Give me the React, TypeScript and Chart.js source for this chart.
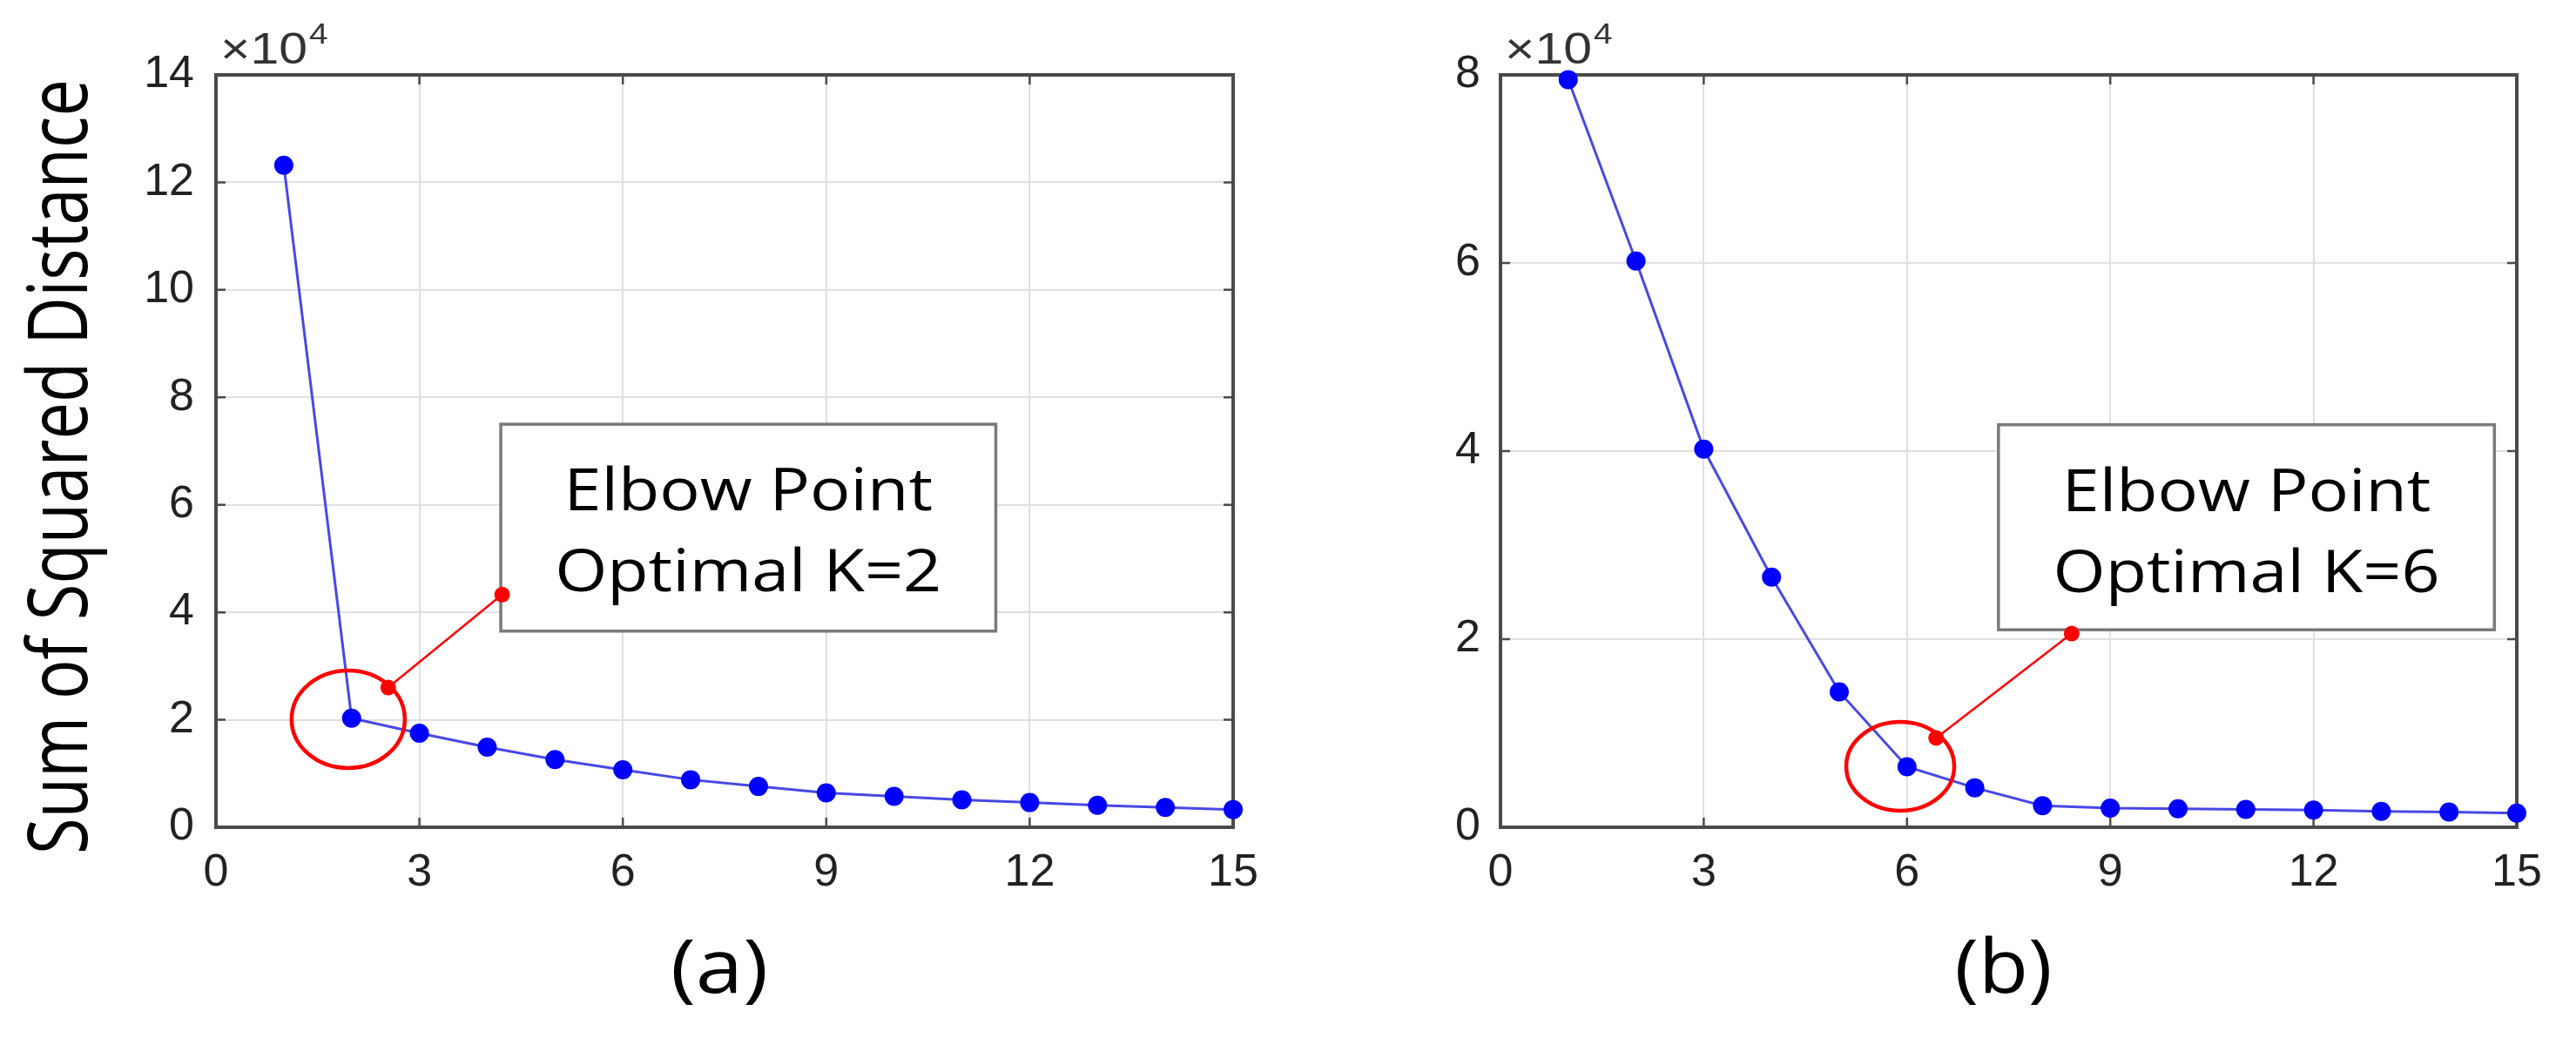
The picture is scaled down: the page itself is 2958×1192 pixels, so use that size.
import React, { useEffect, useRef } from "react";
import { Chart, registerables } from "chart.js";

Chart.register(...registerables);

// ---------- data ----------
const K_VALUES = [1, 2, 3, 4, 5, 6, 7, 8, 9, 10, 11, 12, 13, 14, 15];
const SSD_A = [123200, 20300, 17500, 14900, 12600, 10700, 8850, 7600, 6400, 5760, 5100, 4600, 4100, 3700, 3300];
const SSD_B = [79500, 60200, 40200, 26600, 14400, 6440, 4200, 2300, 2040, 1970, 1900, 1830, 1690, 1620, 1510];

const X_MIN = 0;
const X_MAX = 15;
const X_STEP = 3;
const Y_MAX_A = 140000;
const Y_MAX_B = 80000;
const Y_STEP = 20000;
const Y_SCALE_FACTOR = 10000;

// elbow annotations (data coordinates)
const ELBOW_A_CENTER = [1.95, 20100];
const ELBOW_A_POINTER_X = [2.54, 4.22];
const ELBOW_A_POINTER_Y = [26000, 43300];
const ELBOW_A_BOX_X = [4.2, 11.5];
const ELBOW_A_BOX_Y = [36500, 75000];
const ELBOW_A_TEXT = ["Elbow Point", "Optimal K=2"];

const ELBOW_B_CENTER = [5.9, 6480];
const ELBOW_B_POINTER_X = [6.43, 8.43];
const ELBOW_B_POINTER_Y = [9500, 20600];
const ELBOW_B_BOX_X = [7.35, 14.67];
const ELBOW_B_BOX_Y = [21000, 42800];
const ELBOW_B_TEXT = ["Elbow Point", "Optimal K=6"];

const Y_LABEL = "Sum of Squared Distance";
const PANEL_LABELS = ["(a)", "(b)"];
const EXPONENT_BASE = "\u00d710";
const EXPONENT_POWER = "4";

// ---------- styles ----------
const TICK_COLOR = "#222222";
const GRID_COLOR = "#e0e0e0";
const BOX_COLOR = "#4a4a4a";
const LINE_COLOR = "#4848e4";
const POINT_COLOR = "#0000ff";
const RED = "#ff0000";
const TICK_FONT = { family: '"Liberation Sans", Arial, sans-serif', size: 52 };
const TEXT_FAMILY = '"Open Sans", "Noto Sans", sans-serif';

type PanelDef = {
  values: number[];
  yMax: number;
  center: number[];
  rx: number;
  ry: number;
  pointerX: number[];
  pointerY: number[];
  boxX: number[];
  boxY: number[];
  text: string[];
  label: string;
  yWidth: number;
  padRight: number;
  yPad: number;
  showYLabel: boolean;
};

const PANEL_A: PanelDef = {
  values: SSD_A,
  yMax: Y_MAX_A,
  center: ELBOW_A_CENTER,
  rx: 65,
  ry: 56,
  pointerX: ELBOW_A_POINTER_X,
  pointerY: ELBOW_A_POINTER_Y,
  boxX: ELBOW_A_BOX_X,
  boxY: ELBOW_A_BOX_Y,
  text: ELBOW_A_TEXT,
  label: PANEL_LABELS[0],
  yWidth: 248,
  padRight: 63,
  yPad: 25,
  showYLabel: true,
};

const PANEL_B: PanelDef = {
  values: SSD_B,
  yMax: Y_MAX_B,
  center: ELBOW_B_CENTER,
  rx: 62,
  ry: 51,
  pointerX: ELBOW_B_POINTER_X,
  pointerY: ELBOW_B_POINTER_Y,
  boxX: ELBOW_B_BOX_X,
  boxY: ELBOW_B_BOX_Y,
  text: ELBOW_B_TEXT,
  label: PANEL_LABELS[1],
  yWidth: 244,
  padRight: 68,
  yPad: 23,
  showYLabel: false,
};

function drawStretched(ctx: CanvasRenderingContext2D, text: string, x: number, y: number, sx: number) {
  ctx.save();
  ctx.translate(x, y);
  ctx.scale(sx, 1);
  ctx.fillText(text, 0, 0);
  ctx.restore();
}

function makeDecorPlugin(p: PanelDef) {
  return {
    id: "decor",
    beforeDatasetsDraw(chart: any) {
      const { ctx, chartArea: ca, scales } = chart;
      const xs = scales.x;
      const ys = scales.y;
      ctx.save();
      // axes box
      ctx.strokeStyle = BOX_COLOR;
      ctx.lineWidth = 4;
      ctx.strokeRect(ca.left, ca.top, ca.right - ca.left, ca.bottom - ca.top);
      // inward tick marks
      const tl = 11;
      ctx.lineWidth = 2.5;
      ctx.beginPath();
      xs.ticks.forEach((t: any) => {
        const px = xs.getPixelForValue(t.value);
        ctx.moveTo(px, ca.bottom);
        ctx.lineTo(px, ca.bottom - tl);
        ctx.moveTo(px, ca.top);
        ctx.lineTo(px, ca.top + tl);
      });
      ys.ticks.forEach((t: any) => {
        const py = ys.getPixelForValue(t.value);
        ctx.moveTo(ca.left, py);
        ctx.lineTo(ca.left + tl, py);
        ctx.moveTo(ca.right, py);
        ctx.lineTo(ca.right - tl, py);
      });
      ctx.stroke();

      // annotation text box
      const bx1 = xs.getPixelForValue(p.boxX[0]);
      const bx2 = xs.getPixelForValue(p.boxX[1]);
      const by1 = ys.getPixelForValue(p.boxY[1]);
      const by2 = ys.getPixelForValue(p.boxY[0]);
      ctx.fillStyle = "#ffffff";
      ctx.fillRect(bx1, by1, bx2 - bx1, by2 - by1);
      ctx.strokeStyle = "#7a7a7a";
      ctx.lineWidth = 3.5;
      ctx.strokeRect(bx1, by1, bx2 - bx1, by2 - by1);
      ctx.fillStyle = "#000000";
      ctx.font = `67px ${TEXT_FAMILY}`;
      ctx.textAlign = "center";
      ctx.textBaseline = "alphabetic";
      const w = ctx.measureText(p.text[1]).width;
      const sx = 444 / w;
      const cx = (bx1 + bx2) / 2;
      drawStretched(ctx, p.text[0], cx, by1 + 99, sx);
      drawStretched(ctx, p.text[1], cx, by1 + 192, sx);
      ctx.restore();
    },
    afterDatasetsDraw(chart: any) {
      const { ctx, chartArea: ca, scales } = chart;
      const xs = scales.x;
      const ys = scales.y;
      ctx.save();
      // red ellipse around the elbow
      ctx.strokeStyle = RED;
      ctx.lineWidth = 4.5;
      ctx.beginPath();
      ctx.ellipse(xs.getPixelForValue(p.center[0]), ys.getPixelForValue(p.center[1]), p.rx, p.ry, 0, 0, Math.PI * 2);
      ctx.stroke();

      // x10^4 exponent label
      ctx.fillStyle = "#333333";
      ctx.textAlign = "left";
      ctx.textBaseline = "alphabetic";
      ctx.font = `50px "Liberation Sans", Arial, sans-serif`;
      const wBase = ctx.measureText(EXPONENT_BASE).width;
      const esx = 100 / wBase;
      drawStretched(ctx, EXPONENT_BASE, ca.left + 5, ca.top - 13, esx);
      ctx.font = `33px "Liberation Sans", Arial, sans-serif`;
      drawStretched(ctx, EXPONENT_POWER, ca.left + 5 + 100 + 2, ca.top - 36, esx);

      // y-axis title
      if (p.showYLabel) {
        ctx.fillStyle = "#000000";
        ctx.font = `95px ${TEXT_FAMILY}`;
        ctx.textAlign = "center";
        const wl = ctx.measureText(Y_LABEL).width;
        ctx.save();
        ctx.translate(100, (ca.top + ca.bottom) / 2 + 18);
        ctx.rotate(-Math.PI / 2);
        ctx.scale(890 / wl, 1);
        ctx.fillText(Y_LABEL, 0, 0);
        ctx.restore();
      }

      // panel label
      ctx.fillStyle = "#000000";
      ctx.font = `86px ${TEXT_FAMILY}`;
      ctx.textAlign = "center";
      const wp = ctx.measureText(p.label).width;
      drawStretched(ctx, p.label, (ca.left + ca.right) / 2 - 6, 1140, 112 / wp);
      ctx.restore();
    },
  };
}

function makeConfig(p: PanelDef): any {
  const gridOpts = { color: GRID_COLOR, lineWidth: 2, drawTicks: false };
  return {
    type: "line",
    data: {
      datasets: [
        {
          data: p.pointerX.map((xv, i) => ({ x: xv, y: p.pointerY[i] })),
          borderColor: RED,
          backgroundColor: RED,
          borderWidth: 2.5,
          pointRadius: 9,
          pointBorderWidth: 0,
          clip: false,
          order: 0,
        },
        {
          data: K_VALUES.map((k, i) => ({ x: k, y: p.values[i] })),
          borderColor: LINE_COLOR,
          backgroundColor: POINT_COLOR,
          borderWidth: 3,
          pointRadius: 11,
          pointBorderWidth: 0,
          clip: false,
          order: 1,
        },
      ],
    },
    options: {
      animation: false,
      responsive: false,
      devicePixelRatio: 1,
      events: [],
      layout: { autoPadding: false, padding: { left: 0, top: 86, right: p.padRight, bottom: 142 } },
      plugins: { legend: { display: false }, tooltip: { enabled: false }, title: { display: false } },
      scales: {
        x: {
          type: "linear",
          min: X_MIN,
          max: X_MAX,
          ticks: { stepSize: X_STEP, padding: 21, color: TICK_COLOR, font: TICK_FONT },
          grid: gridOpts,
          border: { display: false },
          afterFit: (s: any) => {
            s.height = 100;
          },
        },
        y: {
          type: "linear",
          min: 0,
          max: p.yMax,
          ticks: {
            stepSize: Y_STEP,
            padding: p.yPad,
            color: TICK_COLOR,
            font: TICK_FONT,
            callback: (v: number) => String(Math.round(v / Y_SCALE_FACTOR)),
          },
          grid: gridOpts,
          border: { display: false },
          afterFit: (s: any) => {
            s.width = p.yWidth;
          },
        },
      },
    },
    plugins: [makeDecorPlugin(p)],
  };
}

export default function App() {
  const refA = useRef<HTMLCanvasElement>(null);
  const refB = useRef<HTMLCanvasElement>(null);
  useEffect(() => {
    const charts = [new Chart(refA.current!, makeConfig(PANEL_A)), new Chart(refB.current!, makeConfig(PANEL_B))];
    return () => charts.forEach((c) => c.destroy());
  }, []);
  return (
    <div style={{ position: "absolute", left: 0, top: 0, width: 2958, height: 1192, background: "#ffffff", overflow: "hidden" }}>
      <canvas ref={refA} width={1479} height={1192} style={{ position: "absolute", left: 0, top: 0, width: 1479, height: 1192 }} />
      <canvas ref={refB} width={1479} height={1192} style={{ position: "absolute", left: 1479, top: 0, width: 1479, height: 1192 }} />
    </div>
  );
}
